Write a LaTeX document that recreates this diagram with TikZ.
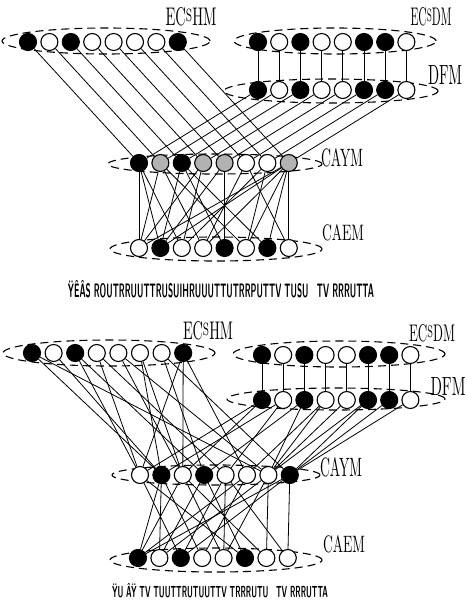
\documentclass[tikz,border=0pt]{standalone}
\usepackage{graphicx}
\begin{document}
\begin{tikzpicture}[x=1pt, y=-1pt,
    unit/.style={circle, draw=black, line width=1.1pt, minimum size=17pt, inner sep=0pt},
    grp/.style={dash pattern=on 8pt off 5pt, line width=1.1pt},
    link/.style={line width=0.8pt},
    lbl/.style={inner sep=0pt},
    captxt/.style={inner sep=0pt, font=\sffamily\bfseries}
]
\useasboundingbox (0,0) rectangle (466,604);

% ---------- upper figure ----------
% groups
\draw[grp] (106,41) ellipse [x radius=104pt, y radius=13pt];
\draw[grp] (335,41) ellipse [x radius=101pt, y radius=13pt];
\draw[grp] (331,91) ellipse [x radius=107pt, y radius=12pt];
\draw[grp] (215,164) ellipse [x radius=107pt, y radius=10pt];
\draw[grp] (216,249) ellipse [x radius=106pt, y radius=12pt];

% units
\foreach \c [count=\i] in {black,white,black,white,white,white,white,black}
  \node[unit, fill=\c] (thm\i) at ({28+21.4*(\i-1)},42) {};
\foreach \c [count=\i] in {black,white,black,white,white,black,black,white}
  \node[unit, fill=\c] (tsd\i) at ({258+21.2*(\i-1)},42) {};
\foreach \c [count=\i] in {black,white,black,white,white,black,black,white}
  \node[unit, fill=\c] (tdf\i) at ({258+21.2*(\i-1)},90) {};
\foreach \c [count=\i] in {black,black!30,black,black!30,black!30,white,white,black!30}
  \node[unit, fill=\c] (tay\i) at ({139+21.4*(\i-1)},163) {};
\foreach \c [count=\i] in {white,black,white,white,black,white,black,white}
  \node[unit, fill=\c] (tae\i) at ({139+21.4*(\i-1)},248) {};

% connections
\foreach \i in {1,...,8} {
  \draw[link] (thm\i) -- (tay\i);
  \draw[link] (tdf\i) -- (tay\i);
  \draw[link] (tsd\i) -- (tdf\i);
}
\foreach \a/\b in {1/1,1/2,1/3,2/1,2/4,2/6,3/2,3/5,3/7,4/1,4/3,5/5,5/2,6/4,6/8,7/3,7/6,8/1,8/2,8/4,8/6,8/7,8/8}
  \draw[link] (tay\a) -- (tae\b);

% labels
\node[lbl] (thmlbl) at (191,17) {\resizebox{51pt}{18pt}{EC\raisebox{0.4ex}{\scriptsize S}HM}};
\node[lbl] (tsdlbl) at (431,17) {\resizebox{41pt}{18pt}{EC\raisebox{0.4ex}{\scriptsize S}DM}};
\node[lbl] (tdflbl) at (445,75) {\resizebox{34pt}{19pt}{DFM}};
\node[lbl] (taylbl) at (342,158) {\resizebox{42pt}{18pt}{CAYM}};
\node[lbl] (taelbl) at (343,233) {\resizebox{42pt}{16pt}{CAEM}};
\node[captxt] (tcap) at (221,289) {\resizebox{306pt}{17pt}{\"Y\^E\^AS ROUTRRUUTTRUSUIHRUUUTTUTRRPUTTV TUSU\quad TV RRRUTTA}};

% ---------- lower figure ----------
% groups
\draw[grp] (109,353) ellipse [x radius=106pt, y radius=13pt];
\draw[grp] (339,354) ellipse [x radius=106pt, y radius=13pt];
\draw[grp] (336,399) ellipse [x radius=109pt, y radius=11pt];
\draw[grp] (216,475) ellipse [x radius=104pt, y radius=10pt];
\draw[grp] (216,560) ellipse [x radius=106pt, y radius=12pt];

% units
\foreach \c [count=\i] in {black,white,black,white,white,white,white,black}
  \node[unit, fill=\c] (bhm\i) at ({32+21.6*(\i-1)},353) {};
\foreach \c [count=\i] in {black,white,black,white,white,black,black,white}
  \node[unit, fill=\c] (bsd\i) at ({262+21.2*(\i-1)},355) {};
\foreach \c [count=\i] in {black,white,black,white,white,black,black,white}
  \node[unit, fill=\c] (bdf\i) at ({262+21.2*(\i-1)},400) {};
\foreach \c [count=\i] in {white,black,white,black,white,white,white,black}
  \node[unit, fill=\c] (bay\i) at ({140+21.4*(\i-1)},475) {};
\foreach \c [count=\i] in {black,white,black,white,white,black,white,white}
  \node[unit, fill=\c] (bae\i) at ({138+21.4*(\i-1)},558) {};

% connections
\foreach \i in {1,...,8}
  \draw[link] (bsd\i) -- (bdf\i);
\foreach \a/\b in {1/2,1/7,2/2,3/1,3/4,4/1,4/5,5/3,5/7,6/2,6/3,7/4,7/8,8/1,8/3,8/6}
  \draw[link] (bhm\a) -- (bay\b);
\foreach \a/\b in {1/1,1/3,2/2,2/5,3/4,3/7,4/6,4/7,5/7,6/7,6/8,7/8,8/8}
  \draw[link] (bdf\a) -- (bay\b);
\foreach \a/\b in {2/2,5/5,7/7,8/8,1/3,1/6,2/1,2/4,3/1,3/5,3/7,4/2,4/6,5/3,5/8,6/1,6/4,7/2,7/5,8/1,8/3}
  \draw[link] (bay\a) -- (bae\b);

% labels
\node[lbl] (bhmlbl) at (208,331) {\resizebox{50pt}{18pt}{EC\raisebox{0.4ex}{\scriptsize S}HM}};
\node[lbl] (bsdlbl) at (432,333) {\resizebox{46pt}{17pt}{EC\raisebox{0.4ex}{\scriptsize S}DM}};
\node[lbl] (bdflbl) at (448,386) {\resizebox{35pt}{18pt}{DFM}};
\node[lbl] (baylbl) at (341,467) {\resizebox{42pt}{19pt}{CAYM}};
\node[lbl] (baelbl) at (344,544) {\resizebox{42pt}{17pt}{CAEM}};
\node[captxt] (bcap) at (220,591) {\resizebox{216pt}{14pt}{\"YU \^A\"Y TV TUUTTRUTUUTTV TRRRUTU\quad TV RRRUTTA}};
\end{tikzpicture}
\end{document}
